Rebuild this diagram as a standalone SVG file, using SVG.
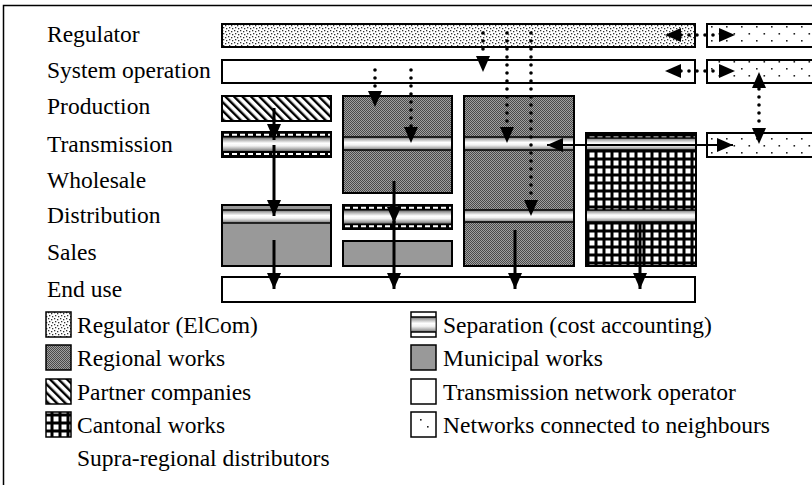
<svg xmlns="http://www.w3.org/2000/svg" width="812" height="485" viewBox="0 0 812 485">
  <style>
    text { font-family: "Liberation Serif", "Times New Roman", Times, "DejaVu Serif", serif; font-size: 23.5px; fill: #000; }
    .box { stroke: #000; stroke-width: 2; }
    .swatch { stroke: #000; stroke-width: 1.5; }
    .edge { stroke: #000; stroke-width: 1.5; fill: none; }
    .solid { stroke: #000; stroke-width: 3; fill: none; }
    .dotted { stroke: #000; stroke-width: 3.6; stroke-linecap: round; stroke-dasharray: 0 8; fill: none; }
    .dash { stroke: #fff; stroke-width: 2; stroke-dasharray: 5 3; }
  </style>
  <defs>
    <!-- stipple fill: regulator -->
    <pattern id="stipple" width="6" height="6" patternUnits="userSpaceOnUse">
      <rect width="6" height="6" fill="#fff"/>
      <rect x="0" y="0" width="1.3" height="1.3" fill="#333"/>
      <rect x="3" y="1" width="1.3" height="1.3" fill="#333"/>
      <rect x="1" y="3" width="1.3" height="1.3" fill="#333"/>
      <rect x="4" y="4" width="1.3" height="1.3" fill="#333"/>
    </pattern>
    <!-- sparse dots: networks connected to neighbours -->
    <pattern id="sparse" width="15" height="14" patternUnits="userSpaceOnUse" x="709" y="25">
      <rect width="15" height="14" fill="#fff"/>
      <rect x="2" y="1" width="1.6" height="1.6" fill="#222"/>
      <rect x="9.5" y="8" width="1.6" height="1.6" fill="#222"/>
    </pattern>
    <!-- fine checker: regional works -->
    <pattern id="regional" width="2" height="2" patternUnits="userSpaceOnUse">
      <rect width="2" height="2" fill="#a0a0a0"/>
      <rect x="0" y="0" width="1" height="1" fill="#4a4a4a"/>
      <rect x="1" y="1" width="1" height="1" fill="#4a4a4a"/>
    </pattern>
    <!-- diagonal hatch: partner companies -->
    <pattern id="hatch" width="6" height="6" patternUnits="userSpaceOnUse" patternTransform="rotate(-45)">
      <rect width="6" height="6" fill="#fff"/>
      <rect x="0" y="0" width="2.4" height="6" fill="#000"/>
    </pattern>
    <!-- grid: cantonal works -->
    <pattern id="grid" width="8" height="8" patternUnits="userSpaceOnUse" x="587" y="134">
      <rect width="8" height="8" fill="#000"/>
      <rect x="2.5" y="2.5" width="5" height="5" fill="#fff"/>
    </pattern>
    <!-- tube shading: separation -->
    <linearGradient id="tube" x1="0" y1="0" x2="0" y2="1">
      <stop offset="0" stop-color="#707070"/>
      <stop offset="0.18" stop-color="#b4b4b4"/>
      <stop offset="0.42" stop-color="#ffffff"/>
      <stop offset="0.62" stop-color="#f2f2f2"/>
      <stop offset="0.85" stop-color="#acacac"/>
      <stop offset="1" stop-color="#707070"/>
    </linearGradient>
    <marker id="head" viewBox="0 0 16 14" refX="16" refY="7" markerWidth="16" markerHeight="14" markerUnits="userSpaceOnUse" orient="auto">
      <path d="M0,0 L16,7 L0,14 z" fill="#000"/>
    </marker>
    <marker id="tail" viewBox="0 0 16 14" refX="0" refY="7" markerWidth="16" markerHeight="14" markerUnits="userSpaceOnUse" orient="auto">
      <path d="M16,0 L0,7 L16,14 z" fill="#000"/>
    </marker>
  </defs>

  <rect width="812" height="485" fill="#fff"/>
  <!-- outer frame -->
  <rect x="3.5" y="5.5" width="900" height="600" fill="none" stroke="#000" stroke-width="1.5"/>

  <!-- row labels -->
  <g id="labels" font-family="'Liberation Serif', 'Times New Roman', Times, serif">
    <text x="47" y="42">Regulator</text>
    <text x="47" y="78">System operation</text>
    <text x="47" y="114">Production</text>
    <text x="47" y="152">Transmission</text>
    <text x="47" y="188">Wholesale</text>
    <text x="47" y="223">Distribution</text>
    <text x="47" y="260">Sales</text>
    <text x="47" y="297">End use</text>
  </g>

  <g id="regulator">
    <rect class="box" x="222" y="24" width="473" height="23" fill="url(#stipple)"/>
  </g>
  <g id="system-operation">
    <rect class="box" x="222" y="60" width="473" height="23" fill="#fff"/>
  </g>

  <!-- neighbouring networks, running past the right edge -->
  <g id="neighbour-regulator">
    <rect class="box" x="707" y="24" width="140" height="23" fill="url(#sparse)"/>
  </g>
  <g id="neighbour-system">
    <rect class="box" x="707" y="60" width="140" height="23" fill="url(#sparse)"/>
  </g>
  <g id="neighbour-transmission">
    <rect class="box" x="707" y="133" width="140" height="24" fill="url(#sparse)"/>
  </g>

  <!-- column 1: partner companies and municipal works -->
  <g id="col1-production">
    <rect class="box" x="222" y="96" width="109" height="25" fill="url(#hatch)"/>
  </g>
  <g id="col1-transmission">
    <rect x="222" y="132" width="109" height="25" fill="#000"/>
    <rect x="222" y="137.5" width="109" height="13.5" fill="url(#tube)"/>
    <line class="dash" x1="224" y1="134.7" x2="331" y2="134.7"/>
    <line class="dash" x1="224" y1="154" x2="331" y2="154"/>
    <rect class="box" x="222" y="132" width="109" height="25" fill="none"/>
  </g>
  <g id="col1-distribution">
    <rect class="box" x="222" y="205" width="109" height="61" fill="#999"/>
    <rect x="223" y="210" width="107" height="13" fill="url(#tube)"/>
    <line class="edge" x1="222" y1="210" x2="331" y2="210"/>
    <line class="edge" x1="222" y1="223" x2="331" y2="223"/>
  </g>

  <!-- column 2: regional works -->
  <g id="col2-regional">
    <rect class="box" x="343" y="96" width="109" height="97" fill="url(#regional)"/>
    <rect x="344" y="137" width="107" height="13" fill="url(#tube)"/>
    <line class="edge" x1="343" y1="137" x2="452" y2="137"/>
    <line class="edge" x1="343" y1="150" x2="452" y2="150"/>
  </g>
  <g id="col2-distribution">
    <rect x="343" y="205" width="109" height="24" fill="#000"/>
    <rect x="343" y="210.5" width="109" height="13" fill="url(#tube)"/>
    <line class="dash" x1="345" y1="207.7" x2="452" y2="207.7"/>
    <line class="dash" x1="345" y1="226.3" x2="452" y2="226.3"/>
    <rect class="box" x="343" y="205" width="109" height="24" fill="none"/>
  </g>
  <g id="col2-sales">
    <rect class="box" x="343" y="241" width="109" height="25" fill="#999"/>
  </g>

  <!-- column 3: regional works -->
  <g id="col3-regional">
    <rect class="box" x="464" y="96" width="110" height="170" fill="url(#regional)"/>
    <rect x="465" y="137" width="108" height="13" fill="url(#tube)"/>
    <line class="edge" x1="464" y1="137" x2="574" y2="137"/>
    <line class="edge" x1="464" y1="150" x2="574" y2="150"/>
    <rect x="465" y="210" width="108" height="12" fill="url(#tube)"/>
    <line class="edge" x1="464" y1="210" x2="574" y2="210"/>
    <line class="edge" x1="464" y1="222" x2="574" y2="222"/>
  </g>

  <!-- column 4: cantonal works -->
  <g id="col4-cantonal">
    <rect class="box" x="586" y="133" width="110" height="133" fill="url(#grid)"/>
    <rect x="587" y="138" width="108" height="12" fill="url(#tube)"/>
    <line class="edge" x1="586" y1="138" x2="696" y2="138"/>
    <line class="edge" x1="586" y1="150" x2="696" y2="150"/>
    <rect x="587" y="210" width="108" height="12" fill="url(#tube)"/>
    <line class="edge" x1="586" y1="210" x2="696" y2="210"/>
    <line class="edge" x1="586" y1="222" x2="696" y2="222"/>
  </g>

  <g id="end-use">
    <rect class="box" x="222" y="277" width="473" height="25" fill="#fff"/>
  </g>

  <g id="connectors">
    <!-- supervision (dotted) -->
    <line class="dotted" x1="483" y1="33" x2="483" y2="56"/>
    <path d="M483,56 L483,72" stroke="none" fill="none" marker-end="url(#head)"/>
    <line class="dotted" x1="375" y1="70" x2="375" y2="91"/>
    <path d="M375,91 L375,107" stroke="none" fill="none" marker-end="url(#head)"/>
    <line class="dotted" x1="411" y1="70" x2="411" y2="127"/>
    <path d="M411,127 L411,143" stroke="none" fill="none" marker-end="url(#head)"/>
    <line class="dotted" x1="507" y1="33" x2="507" y2="127"/>
    <path d="M507,127 L507,143" stroke="none" fill="none" marker-end="url(#head)"/>
    <line class="dotted" x1="531" y1="33" x2="531" y2="200"/>
    <path d="M531,200 L531,216" stroke="none" fill="none" marker-end="url(#head)"/>
    <!-- links to neighbouring networks -->
    <line class="dotted" x1="681" y1="35" x2="719" y2="35"/>
    <path d="M681,35 L665,35" stroke="none" fill="none" marker-end="url(#head)"/>
    <path d="M719,35 L735,35" stroke="none" fill="none" marker-end="url(#head)"/>
    <line class="dotted" x1="681" y1="71" x2="719" y2="71"/>
    <path d="M681,71 L665,71" stroke="none" fill="none" marker-end="url(#head)"/>
    <path d="M719,71 L735,71" stroke="none" fill="none" marker-end="url(#head)"/>
    <line class="dotted" x1="759" y1="89" x2="759" y2="127"/>
    <path d="M759,88 L759,72" stroke="none" fill="none" marker-end="url(#head)"/>
    <path d="M759,128 L759,144" stroke="none" fill="none" marker-end="url(#head)"/>

    <!-- energy flows (solid) -->
    <line class="solid" x1="274" y1="108" x2="274" y2="140" marker-end="url(#head)"/>
    <line class="solid" x1="274" y1="145" x2="274" y2="216" marker-end="url(#head)"/>
    <line class="solid" x1="274" y1="240" x2="274" y2="289" marker-end="url(#head)"/>
    <line class="solid" x1="394" y1="181" x2="394" y2="223" marker-end="url(#head)"/>
    <line class="solid" x1="394" y1="221" x2="394" y2="289" marker-end="url(#head)"/>
    <line class="solid" x1="515" y1="230" x2="515" y2="289" marker-end="url(#head)"/>
    <line class="solid" x1="640" y1="222" x2="640" y2="289" marker-end="url(#head)"/>
    <line stroke="#000" stroke-width="2" x1="547" y1="145" x2="733" y2="145" marker-start="url(#tail)" marker-end="url(#head)"/>
  </g>

  <!-- legend -->
  <g id="legend" font-family="'Liberation Serif', 'Times New Roman', Times, serif">
    <rect class="swatch" x="46" y="312" width="25" height="25" fill="url(#stipple)"/>
    <text x="77" y="333">Regulator (ElCom)</text>
    <rect class="swatch" x="46" y="345" width="25" height="25" fill="url(#regional)"/>
    <text x="77" y="366">Regional works</text>
    <rect class="swatch" x="46" y="379" width="25" height="25" fill="url(#hatch)"/>
    <text x="77" y="400">Partner companies</text>
    <rect class="swatch" x="46" y="412" width="25" height="25" fill="url(#grid)"/>
    <text x="77" y="433">Cantonal works</text>
    <text x="77" y="466">Supra-regional distributors</text>

    <rect class="swatch" x="411" y="312" width="25" height="25" fill="#fff"/>
    <rect x="411.5" y="317" width="24" height="15" fill="url(#tube)"/>
    <line class="edge" x1="411" y1="317" x2="436" y2="317"/>
    <line class="edge" x1="411" y1="332" x2="436" y2="332"/>
    <text x="443" y="333">Separation (cost accounting)</text>
    <rect class="swatch" x="411" y="345" width="25" height="25" fill="#999"/>
    <text x="443" y="366">Municipal works</text>
    <rect class="swatch" x="411" y="379" width="25" height="25" fill="#fff"/>
    <text x="443" y="400">Transmission network operator</text>
    <rect class="swatch" x="411" y="412" width="25" height="25" fill="#fff"/>
    <rect x="420" y="419" width="1.6" height="1.6" fill="#222"/>
    <rect x="427" y="426" width="1.6" height="1.6" fill="#222"/>
    <text x="443" y="433">Networks connected to neighbours</text>
  </g>
</svg>
